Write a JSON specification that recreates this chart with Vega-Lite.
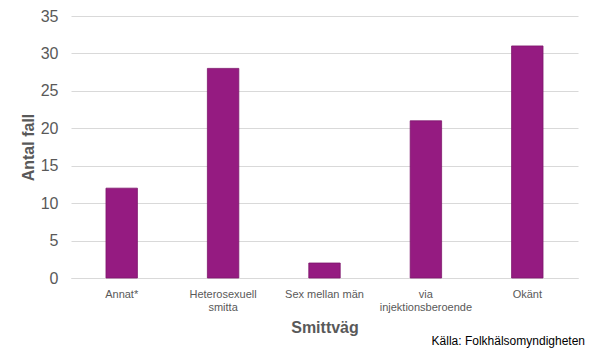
{
  "$schema": "https://vega.github.io/schema/vega-lite/v6.json",
  "width": 507,
  "height": 262,
  "autosize": {"type": "none"},
  "padding": {"left": 71, "top": 16, "right": 12, "bottom": 76},
  "background": "white",
  "config": {"view": {"stroke": null}, "font": "Liberation Sans"},
  "title": {
    "text": "Källa:  Folkhälsomyndigheten",
    "orient": "bottom",
    "anchor": "end",
    "frame": "group",
    "fontSize": 12,
    "fontWeight": "normal",
    "color": "#000000",
    "offset": 1,
    "dx": 7
  },
  "data": {
    "values": [
      {"smittvag": "Annat*", "antal": 12},
      {"smittvag": "Heterosexuell smitta", "antal": 28},
      {"smittvag": "Sex mellan män", "antal": 2},
      {"smittvag": "via injektionsberoende", "antal": 21},
      {"smittvag": "Okänt", "antal": 31}
    ]
  },
  "mark": {"type": "bar", "color": "#951B81", "stroke": "#7d166c", "strokeWidth": 0.8},
  "encoding": {
    "x": {
      "field": "smittvag",
      "type": "nominal",
      "sort": null,
      "scale": {"paddingInner": 0.69, "paddingOuter": 0.345},
      "axis": {
        "title": "Smittväg",
        "titleFontSize": 16,
        "titleFontWeight": "bold",
        "titleColor": "#595959",
        "titlePadding": 7,
        "labelAngle": 0,
        "labelFontSize": 11,
        "labelColor": "#595959",
        "labelPadding": 10,
        "labelExpr": "datum.label == 'Heterosexuell smitta' ? ['Heterosexuell', 'smitta'] : datum.label == 'via injektionsberoende' ? ['via', 'injektionsberoende'] : datum.label",
        "ticks": false,
        "domainColor": "#d9d9d9",
        "domainWidth": 1
      }
    },
    "y": {
      "field": "antal",
      "type": "quantitative",
      "scale": {"domain": [0, 35]},
      "axis": {
        "title": "Antal fall",
        "titleFontSize": 16,
        "titleFontWeight": "bold",
        "titleColor": "#595959",
        "titlePadding": 4,
        "values": [0, 5, 10, 15, 20, 25, 30, 35],
        "labelFontSize": 16,
        "labelColor": "#595959",
        "labelPadding": 13,
        "ticks": false,
        "domain": false,
        "gridColor": "#d9d9d9",
        "gridWidth": 1
      }
    }
  }
}
